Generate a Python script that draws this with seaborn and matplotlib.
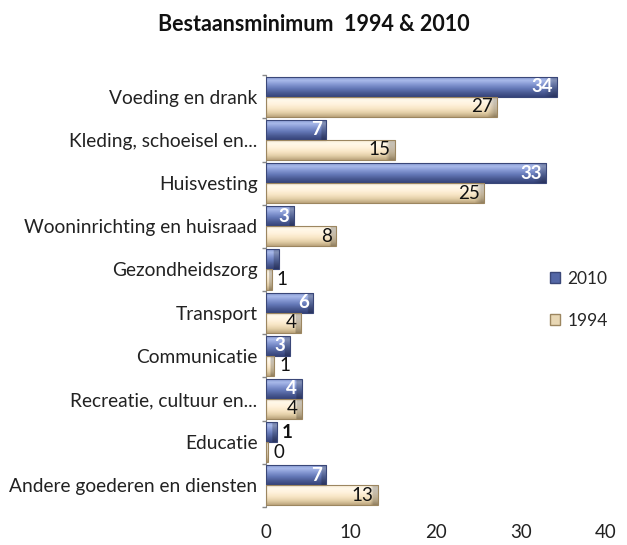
import numpy as np
import pandas as pd
import seaborn as sns
import matplotlib
matplotlib.use("Agg")
import matplotlib.pyplot as plt
from matplotlib.patches import Patch
from matplotlib.colors import LinearSegmentedColormap

categories = ["Voeding en drank", "Kleding, schoeisel en...", "Huisvesting",
              "Wooninrichting en huisraad", "Gezondheidszorg", "Transport",
              "Communicatie", "Recreatie, cultuur en...", "Educatie",
              "Andere goederen en diensten"]
values_2010 = [34.3, 7.1, 33.0, 3.3, 1.5, 5.6, 2.8, 4.2, 1.3, 7.1]
values_1994 = [27.2, 15.2, 25.7, 8.3, 0.7, 4.1, 1.0, 4.2, 0.3, 13.2]
labels_2010 = ["34", "7", "33", "3", "", "6", "3", "4", "1", "7"]
labels_1994 = ["27", "15", "25", "8", "1", "4", "1", "4", "0", "13"]
years = ["2010", "1994"]
xticks = [0, 10, 20, 30, 40]

sns.set_theme(style="white")
plt.rcParams['font.family'] = ['Lato', 'DejaVu Sans']

df = pd.DataFrame({
    "cat": categories * 2,
    "value": values_2010 + values_1994,
    "year": ["2010"] * len(categories) + ["1994"] * len(categories),
})

blue_base = "#5A6EAE"
beige_base = "#EEDDBB"

fig = plt.figure(figsize=(6.27, 5.45), dpi=100)
ax = fig.add_axes([0.424, 0.07, 0.542, 0.792])
sns.barplot(data=df, y="cat", x="value", hue="year", hue_order=years,
            palette=[blue_base, beige_base], orient="h", width=0.93,
            ax=ax, legend=False, errorbar=None)

profiles = {
    "2010": ["#7C8FCB", "#A9BAEA", "#8497D2", "#6377B6", "#4A5A93", "#34427A"],
    "1994": ["#F6E8CC", "#FFF8EA", "#FFF2DC", "#F8E6C6", "#E3CFA8", "#BBA47C"],
}
edges = {"2010": "#3A4778", "1994": "#9C8660"}

n = len(categories)
patches = list(ax.patches)[:2 * n]
for i, p in enumerate(patches):
    yr = years[i // n]
    cmap = LinearSegmentedColormap.from_list(yr, profiles[yr])
    x0, y0 = p.get_x(), p.get_y()
    w, h = p.get_width(), p.get_height()
    grad = np.linspace(0, 1, 64).reshape(-1, 1)
    img = np.tile(grad, (1, 32))
    rgb = cmap(img)
    cols = np.linspace(0, 1, 32)
    end_w = min(0.6 / max(w, 1e-6), 0.5)
    shade = np.where(cols > 1 - end_w, 0.78, 1.0)
    rgb[..., :3] *= shade[None, :, None]
    im = ax.imshow(rgb, extent=(x0, x0 + w, y0 + h, y0), origin="upper",
                   aspect="auto", zorder=2, interpolation="bilinear")
    im.set_clip_path(p)
    p.set_edgecolor(edges[yr])
    p.set_linewidth(0.8)
    p.set_zorder(3)
    p.set_facecolor("none")

ax.set_xlim(0, 40)
ax.set_ylim(n - 0.5, -0.5)
ax.set_xticks(xticks)
ax.set_xticklabels([str(t) for t in xticks], fontsize=13.5, color="#222222")
ax.set_ylabel("")
ax.set_xlabel("")
ax.tick_params(axis="y", labelsize=13.8, length=0, pad=6, colors="#222222")
ax.tick_params(axis="x", length=0, pad=12)
ax.set_yticks(np.arange(-0.5, n, 1), minor=True)
ax.tick_params(axis="y", which="minor", length=3, color="#888888", left=True)
for s in ["top", "right", "bottom"]:
    ax.spines[s].set_visible(False)
ax.spines["left"].set_color("#888888")
ax.spines["left"].set_linewidth(0.8)

for i in range(n):
    for j, (vals, labs) in enumerate([(values_2010, labels_2010), (values_1994, labels_1994)]):
        p = patches[j * n + i]
        v = vals[i]
        lab = labs[i]
        if not lab:
            continue
        yc = p.get_y() + p.get_height() / 2
        if v >= 2.5:
            col = "white" if j == 0 else "#111111"
            ax.text(v - 0.5, yc, lab, ha="right", va="center", fontsize=13.5,
                    color=col, fontweight="bold" if j == 0 else "normal", zorder=5)
        else:
            ax.text(v + 0.6, yc, lab, ha="left", va="center", fontsize=13.5,
                    color="#111111", fontweight="bold" if j == 0 else "normal", zorder=5)

handles = [Patch(facecolor="#5467A6", edgecolor="#3A4778", label="2010"),
           Patch(facecolor="#E8D7B4", edgecolor="#9C8660", label="1994")]
fig.legend(handles=handles, loc="upper left", bbox_to_anchor=(0.852, 0.532),
           frameon=False, fontsize=12.5, handlelength=0.6, handleheight=0.6,
           handletextpad=0.4, labelspacing=1.5)

fig.text(0.5, 0.955, "Bestaansminimum  1994 & 2010", ha="center", va="center",
         fontsize=15.5, fontweight="bold", color="#111111")

fig.savefig("out.png", dpi=100)
